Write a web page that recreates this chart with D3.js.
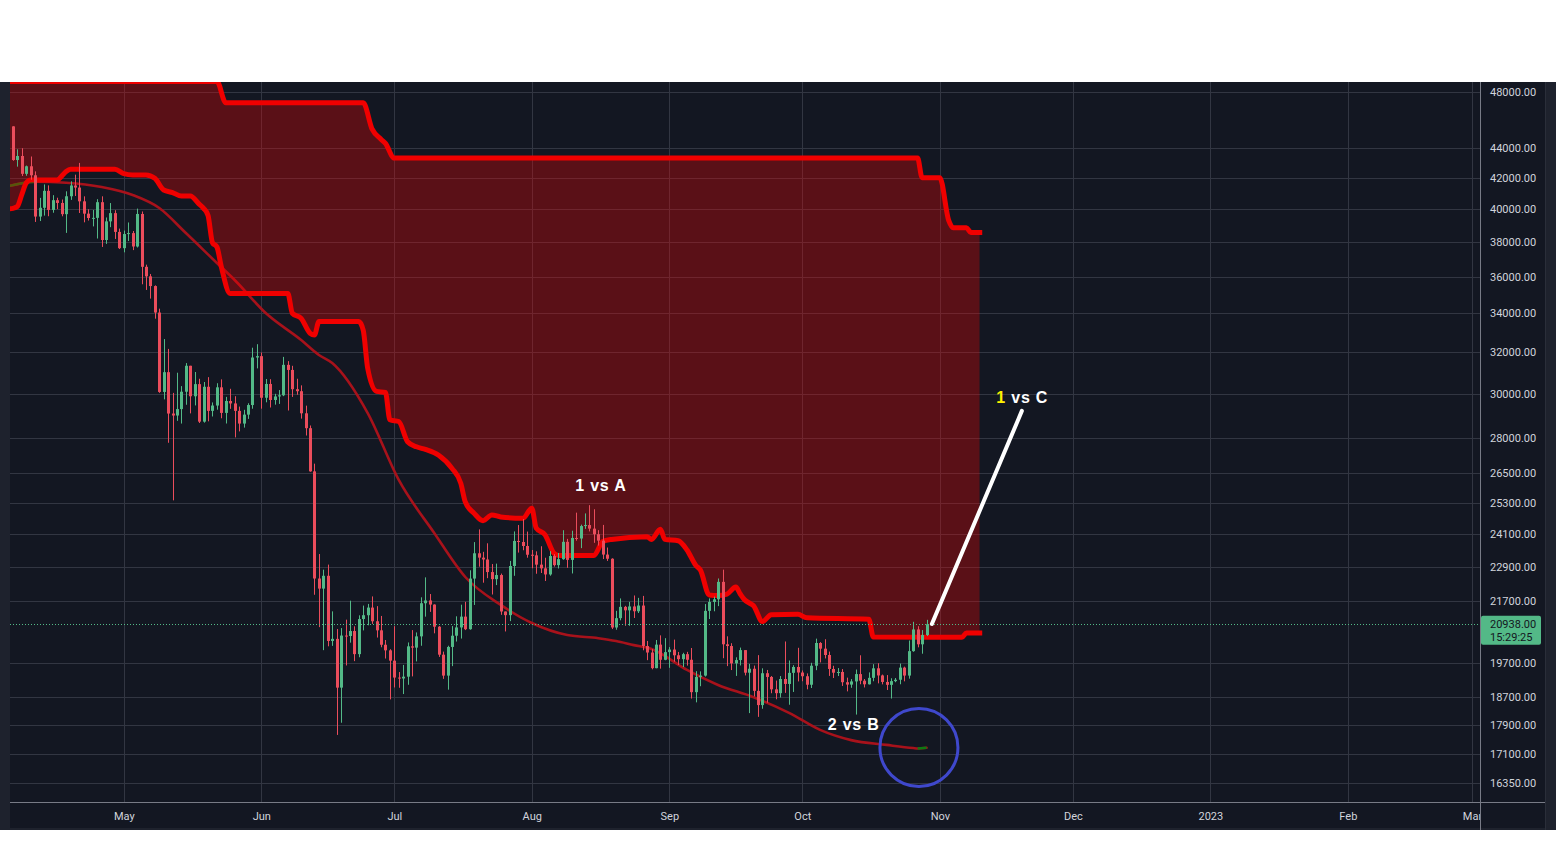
<!DOCTYPE html>
<html><head><meta charset="utf-8">
<script src="https://cdn.jsdelivr.net/npm/d3@7"></script>
<style>
html,body{margin:0;padding:0;background:#ffffff;}
svg{display:block;}
</style></head>
<body>
<svg id="chart" width="1556" height="865"></svg>
<script>
// ---------------- DATA ----------------
const firstCandleDay = "2022-04-05";
// daily candles [open, high, low, close], one per day from firstCandleDay
const candles = [
[46407,47200,45353,45497],[45497,45507,43121,43170],[43170,43900,42727,43444],[43444,43970,42107,42252],
[42252,42800,42125,42753],[42753,43410,41868,42158],[42158,42414,39200,39530],[39530,40699,39254,40074],
[40074,41561,39588,41147],[41147,41500,39551,39942],[39942,40870,39766,40552],[40552,40709,39991,40378],
[40378,40595,39546,39678],[39678,41116,38536,40801],[40801,41760,40571,41493],[41493,42199,40820,41358],
[41358,42976,39751,40480],[40480,40795,39177,39709],[39709,39980,39285,39441],[39441,39940,38929,39450],
[39450,40616,38200,40426],[40426,40797,37702,38112],[38112,39474,37881,39235],[39235,40372,38881,39742],
[39742,39925,38175,38596],[38596,38795,37578,37630],
[37630,38675,37386,38468],[38468,39167,38052,38525],[38525,38651,37517,37728],[37728,40023,37670,39690],
[39690,39845,35571,36552],[36552,36675,35258,36013],[36013,36146,34785,35472],[35472,35510,33713,34038],
[34038,34243,30033,30076],[30076,32658,29730,31017],[31017,32162,27785,29080],[29080,30032,25400,28990],
[28990,30990,28751,29283],[29283,30350,28630,30086],[30086,31460,29480,31328],[31328,31328,29087,29874],
[29874,31025,29450,30444],[30444,30700,28654,28715],[28715,30545,28670,30319],[30319,30777,28730,29201],
[29201,29588,28947,29445],[29445,30487,29255,30293],[30293,30670,28866,29109],[29109,29845,28632,29655],
[29655,30223,29294,29542],[29542,29876,28019,29201],[29201,29397,28282,28629],[28629,29250,28450,29031],
[29031,29550,28838,29468],[29468,32222,29299,31734],[31734,32399,31200,31801],
[31801,31982,29301,29805],[29805,30689,29594,30452],[30452,30679,29355,29700],[29700,29988,29485,29865],
[29865,30165,29520,29919],[29919,31765,29880,31373],[31373,31555,29218,31125],[31125,31326,29843,30205],
[30205,30700,29944,30110],[30110,30386,28850,29091],[29091,29440,28100,28424],[28424,28544,26560,26574],
[26574,26895,21925,22487],[22487,23362,20846,22136],[22136,22800,20111,22583],[22583,22980,20232,20401],
[20401,21365,20246,20468],[20468,20785,17622,18970],[18970,20815,17960,20574],[20574,21090,19637,20560],
[20560,21723,20348,20720],[20720,20873,19770,19987],[19987,21233,19890,21110],[21110,21558,20740,21237],
[21237,21614,20906,21491],[21491,21868,20950,21038],[21038,21539,20510,20742],[20742,21212,20202,20281],
[20281,20432,19850,20105],[20105,20141,18626,19785],
[19785,20876,18975,19270],[19270,19437,18966,19243],[19243,19654,18781,19297],[19297,20354,19055,20231],
[20231,20750,19305,20190],[20190,20675,19762,20548],[20548,21838,20249,21637],[21637,22527,21189,21731],
[21731,21950,21348,21592],[21592,21600,20646,20860],[20860,20880,19900,19970],[19970,20066,19231,19329],
[19329,20250,18910,20212],[20212,20880,19616,20569],[20569,21200,20383,20836],[20836,21588,20478,21190],
[21190,21684,20750,20779],[20779,22777,20762,22485],[22485,23800,21579,23389],[23389,24276,22906,23231],
[23231,23442,22341,23164],[23164,23756,22500,22714],[22714,23000,21934,22465],[22465,23014,22258,22609],
[22609,22660,21250,21361],[21361,21361,20706,21239],[21239,23112,21042,22930],[22930,24200,22582,23843],
[23843,24442,23414,23804],[23804,24668,23500,23656],[23656,24194,23228,23336],
[23336,23509,22850,23314],[23314,23460,22655,22978],[22978,23647,22681,22846],[22846,23227,22400,22630],
[22630,23466,22586,23289],[23289,23354,22909,22961],[22961,23400,22841,23175],[23175,24245,23154,23810],
[23810,23920,22865,23149],[23149,24226,22664,23954],[23954,24918,23852,23934],[23934,24456,23577,24403],
[24403,24888,24296,24441],[24441,25211,24200,24305],[24305,25050,23773,24094],[24094,24247,23671,23854],
[23854,24446,23180,23342],[23342,23600,23111,23191],[23191,23208,20783,20834],[20834,21382,20761,21140],
[21140,21800,21069,21515],[21515,21548,20890,21399],[21399,21684,20890,21529],[21529,21900,21145,21368],
[21368,21819,21310,21559],[21559,21886,20107,20241],[20241,20402,19800,20037],[20037,20142,19520,19555],
[19555,20433,19550,20285],[20285,20580,19540,19811],[19811,20490,19797,20050],
[20050,20208,19565,20131],[20131,20444,19752,19951],[19951,20055,19652,19831],[19831,20029,19587,19986],
[19986,20058,19633,19812],[19812,20179,18650,18837],[18837,19464,18540,19290],[19290,19457,19012,19329],
[19329,21610,19300,21381],[21381,21800,21111,21680],[21680,21860,21367,21770],[21770,22488,21540,22370],
[22370,22799,19860,20296],[20296,20550,19617,20241],[20241,20330,19497,19701],[19701,19888,19320,19803],
[19803,20192,19637,20113],[20113,20113,19335,19417],[19417,19686,18232,19537],[19537,19634,18711,18875],
[18875,19956,18125,18461],[18461,19550,18356,19401],[19401,19500,18531,19289],[19289,19316,18805,18920],
[18920,19180,18629,18807],[18807,19316,18680,19227],[19227,20385,18816,19079],[19079,19790,18471,19412],
[19412,19645,18843,19591],[19591,20185,19155,19422],
[19422,19484,19160,19310],[19310,19395,18920,19056],[19056,19719,18959,19629],[19629,20475,19493,20337],
[20337,20365,19730,20158],[20158,20456,19853,19960],[19960,20067,19320,19530],[19530,19627,19256,19417],
[19417,19558,19316,19439],[19439,19527,19020,19131],[19131,19268,18860,19060],[19060,19224,18965,19155],
[19155,19513,18190,19375],[19375,19951,19070,19176],[19176,19227,18975,19069],[19069,19426,19063,19262],
[19262,19676,19160,19550],[19550,19706,19097,19334],[19334,19360,19067,19139],[19139,19345,18900,19053],
[19053,19250,18650,19163],[19163,19257,19131,19205],[19205,19695,19070,19571],[19571,19601,19157,19330],
[19330,20415,19237,20080],[20080,21020,20060,20771],[20771,20876,20200,20295],[20295,20750,20000,20591],
[20591,21085,20558,20938]
];

// upper band (thick red, top of cloud)
const upperBand = [
["2022-04-05",48800],["2022-05-22",48800],["2022-05-24",47200],["2022-06-24",47200],
["2022-06-26",45300],["2022-06-28",44600],["2022-06-29",44300],["2022-07-01",43300],
["2022-10-27",43300],["2022-10-28",42000],["2022-11-01",42000],["2022-11-03",39300],
["2022-11-04",38850],["2022-11-07",38850],["2022-11-08",38560],["2022-11-10",38560]
];
// lower band (thick red, bottom of cloud)
const lowerBand = [
["2022-04-05",40000],["2022-04-06",40040],["2022-04-07",40150],["2022-04-08",40900],
["2022-04-09",41650],["2022-04-10",41850],["2022-04-16",41850],["2022-04-17",42100],
["2022-04-18",42400],["2022-04-19",42550],["2022-04-29",42550],["2022-05-01",42270],
["2022-05-03",42180],["2022-05-06",42180],["2022-05-08",41960],["2022-05-10",41200],
["2022-05-12",41040],["2022-05-14",40810],["2022-05-16",40810],["2022-05-18",40300],
["2022-05-19",40040],["2022-05-20",39600],["2022-05-21",37950],["2022-05-22",37700],
["2022-05-23",36550],["2022-05-25",35060],["2022-06-07",35060],["2022-06-08",34000],
["2022-06-10",33730],["2022-06-12",32960],["2022-06-13",32870],["2022-06-14",33560],
["2022-06-23",33560],["2022-06-24",33100],["2022-06-25",31200],["2022-06-27",30100],
["2022-06-29",30050],["2022-06-30",28800],["2022-07-02",28720],["2022-07-04",27830],
["2022-07-06",27610],["2022-07-08",27500],["2022-07-11",27250],["2022-07-14",26700],
["2022-07-16",26080],["2022-07-17",25340],["2022-07-19",24890],["2022-07-21",24610],
["2022-07-23",24830],["2022-07-25",24750],["2022-07-30",24700],["2022-08-01",25090],
["2022-08-02",24320],["2022-08-04",24070],["2022-08-06",23390],["2022-08-07",23310],
["2022-08-15",23310],["2022-08-17",23820],["2022-08-19",23900],["2022-08-27",24000],
["2022-08-28",23900],["2022-08-30",24280],["2022-08-31",23900],["2022-09-03",23850],
["2022-09-05",23510],["2022-09-07",22950],["2022-09-08",22790],["2022-09-10",21920],
["2022-09-12",21900],["2022-09-14",21950],["2022-09-16",22190],["2022-09-17",21950],
["2022-09-18",21750],["2022-09-19",21650],["2022-09-20",21550],["2022-09-22",21030],
["2022-09-24",21250],["2022-09-30",21270],["2022-10-02",21150],["2022-10-16",21100],
["2022-10-17",20530],["2022-11-06",20520],["2022-11-07",20660],["2022-11-10",20660]
];
// thin moving average
const movingAvg = [
["2022-04-05",41450],["2022-04-10",41720],["2022-04-11",41740],["2022-04-18",41670],
["2022-04-26",41390],["2022-05-03",40880],["2022-05-09",40060],["2022-05-15",38530],
["2022-05-22",36770],["2022-05-26",35810],["2022-06-02",34010],["2022-06-10",32610],
["2022-06-14",31860],["2022-06-17",31460],["2022-06-25",29100],["2022-07-02",26220],
["2022-07-10",24140],["2022-07-17",22540],["2022-07-25",21580],["2022-08-01",20980],
["2022-08-09",20590],["2022-08-16",20490],["2022-08-20",20400],["2022-08-24",20270],
["2022-08-28",20150],["2022-09-05",19500],["2022-09-12",19050],["2022-09-20",18690],
["2022-09-28",18240],["2022-10-05",17760],["2022-10-12",17480],["2022-10-20",17350],
["2022-10-26",17265],["2022-10-27",17255],["2022-10-29",17272]
];

const lastPrice = 20938;
const lastPriceLabel = "20938.00";
const countdownLabel = "15:29:25";

const priceTicks = [48000,44000,42000,40000,38000,36000,34000,32000,30000,28000,26500,25300,24100,22900,21700,19700,18700,17900,17100,16350];
const monthTicks = ["2022-05-01","2022-06-01","2022-07-01","2022-08-01","2022-09-01","2022-10-01","2022-11-01","2022-12-01","2023-01-01","2023-02-01","2023-03-01"];
const monthLabels = ["May","Jun","Jul","Aug","Sep","Oct","Nov","Dec","2023","Feb","Mar"];

// hand-drawn annotations
const noteTexts = ["1 vs A","2 vs B","1 vs C"];
const noteDates = ["2022-08-16T14:00:00Z","2022-10-12T14:00:00Z","2022-11-19T14:00:00Z"];
const noteValues = [26000,17920,29830];
const pointerFrom = ["2022-10-30T05:00:00Z",20950];
const pointerTo = ["2022-11-19T12:00:00Z",29200];
const circleCenter = ["2022-10-27T07:00:00Z",17280];

// ---------------- DRAWING ----------------
const T = s => new Date(s.length === 10 ? s + "T00:00:00Z" : s);
const plot = {left:10, right:1480, top:82, bottom:802};

const x = d3.scaleUtc()
  .domain([T("2022-04-06"), T("2023-03-01")])
  .range([12.9, 12.9 + 329 * 4.435]);
const y = d3.scaleLog().domain([16350, 48000]).range([783, 92]);

const svg = d3.select("#chart");
const defs = svg.append("defs");
defs.append("clipPath").attr("id","plotClip").append("rect")
  .attr("x",plot.left).attr("y",plot.top).attr("width",plot.right-plot.left).attr("height",plot.bottom-plot.top);
defs.append("clipPath").attr("id","xAxisClip").append("rect")
  .attr("x",plot.left).attr("y",plot.bottom).attr("width",plot.right-plot.left).attr("height",30);

// backgrounds
svg.append("rect").attr("x",0).attr("y",82).attr("width",1556).attr("height",748).attr("fill","#131722");
svg.append("rect").attr("x",0).attr("y",82).attr("width",10).attr("height",748).attr("fill","#1e222d");
svg.append("rect").attr("x",1546).attr("y",82).attr("width",10).attr("height",748).attr("fill","#1e222d");
svg.append("rect").attr("x",0).attr("y",828).attr("width",1556).attr("height",2).attr("fill","#1e222d");

const g = svg.append("g").attr("clip-path","url(#plotClip)");

// grid
const gridColor = "#323642";
g.append("g").selectAll("line").data(priceTicks).join("line")
  .attr("x1",plot.left).attr("x2",plot.right)
  .attr("y1",d=>Math.round(y(d))+0.5).attr("y2",d=>Math.round(y(d))+0.5)
  .attr("stroke",gridColor).attr("stroke-width",1);
g.append("g").selectAll("line").data(monthTicks).join("line")
  .attr("x1",d=>Math.round(x(T(d)))+0.5).attr("x2",d=>Math.round(x(T(d)))+0.5)
  .attr("y1",plot.top).attr("y2",plot.bottom)
  .attr("stroke",gridColor).attr("stroke-width",1);

// moving average (under the cloud)
const maPts = movingAvg.map(([d,v])=>[T(d),v]);
const maLine = d3.line().x(p=>x(p[0])).y(p=>y(p[1])).curve(d3.curveMonotoneX);
g.append("path").attr("d",maLine(maPts)).attr("fill","none")
  .attr("stroke","#a8121b").attr("stroke-width",2.6).attr("stroke-linecap","round");
// rising runs in green
let runs = [], cur = null;
for (let i=1;i<maPts.length;i++){
  if (maPts[i][1] >= maPts[i-1][1]) {
    if (!cur) { cur = [maPts[i-1]]; runs.push(cur); }
    cur.push(maPts[i]);
  } else cur = null;
}
runs.forEach(r=>{
  g.append("path").attr("d",maLine(r)).attr("fill","none")
   .attr("stroke","#0d7a12").attr("stroke-width",2.6);
});

// cloud fill between bands
const upPts = upperBand.map(([d,v])=>[T(d),v]);
const loPts = lowerBand.map(([d,v])=>[T(d),v]);
const belowUpper = d3.area().x(p=>x(p[0])).y0(plot.bottom).y1(p=>y(p[1])).curve(d3.curveMonotoneX);
const aboveLower = d3.area().x(p=>x(p[0])).y0(p=>y(p[1])).y1(plot.top-20).curve(d3.curveMonotoneX);
defs.append("clipPath").attr("id","aboveLowerClip").append("path").attr("d",aboveLower(loPts));
g.append("g").attr("clip-path","url(#aboveLowerClip)")
  .append("path").attr("d",belowUpper(upPts)).attr("fill","rgba(255,0,0,0.30)");

// band lines
const bandLine = d3.line().x(p=>x(p[0])).y(p=>y(p[1])).curve(d3.curveMonotoneX);
[upPts, loPts].forEach(pts=>{
  g.append("path").attr("d",bandLine(pts)).attr("fill","none")
    .attr("stroke","#f00000").attr("stroke-width",5)
    .attr("stroke-linejoin","round").attr("stroke-linecap","square");
});

// candles
const upColor = "#53b987", downColor = "#eb4d5c";
const c0 = T(firstCandleDay);
const cg = g.append("g");
candles.forEach((c,i)=>{
  const [o,h,l,cl] = c;
  const cx = Math.round(x(d3.utcDay.offset(c0,i)));
  const col = cl >= o ? upColor : downColor;
  cg.append("line").attr("x1",cx+0.5).attr("x2",cx+0.5)
    .attr("y1",y(h)).attr("y2",y(l)).attr("stroke",col).attr("stroke-width",1);
  const yt = Math.min(y(o),y(cl)), yb = Math.max(y(o),y(cl));
  cg.append("rect").attr("x",cx-1).attr("width",3)
    .attr("y",yt).attr("height",Math.max(1,yb-yt)).attr("fill",col);
});

// last price dotted line
const yLast = Math.round(y(lastPrice))+0.5;
g.append("line").attr("x1",plot.left).attr("x2",plot.right).attr("y1",yLast).attr("y2",yLast)
  .attr("stroke",upColor).attr("stroke-width",1).attr("stroke-dasharray","1 2");

// axes frame lines
svg.append("line").attr("x1",plot.left).attr("x2",1546).attr("y1",plot.bottom+0.5).attr("y2",plot.bottom+0.5)
  .attr("stroke","#787b86").attr("stroke-width",1);
svg.append("line").attr("x1",plot.right+0.5).attr("x2",plot.right+0.5).attr("y1",82).attr("y2",830)
  .attr("stroke","#787b86").attr("stroke-width",1);
svg.append("line").attr("x1",1545.5).attr("x2",1545.5).attr("y1",82).attr("y2",830)
  .attr("stroke","#2a2e39").attr("stroke-width",1);

// y axis
const yAxis = svg.append("g").attr("transform",`translate(${plot.right},0)`)
  .call(d3.axisRight(y).tickValues(priceTicks).tickSize(0).tickPadding(10).tickFormat(d3.format(".2f")));
yAxis.select(".domain").remove();
yAxis.selectAll("text").attr("fill","#d1d4dc").style("font-family","Roboto, 'Liberation Sans', sans-serif").style("font-size","11px");

// x axis
const xAxis = svg.append("g").attr("clip-path","url(#xAxisClip)").append("g")
  .attr("transform",`translate(0,${plot.bottom})`)
  .call(d3.axisBottom(x).tickValues(monthTicks.map(T)).tickSize(0).tickPadding(10).tickFormat((d,i)=>monthLabels[i]));
xAxis.select(".domain").remove();
xAxis.selectAll("text").attr("fill","#d1d4dc").style("font-family","Roboto, 'Liberation Sans', sans-serif").style("font-size","11px");

// last price label
const lbl = svg.append("g");
lbl.append("rect").attr("x",plot.right+1).attr("y",y(lastPrice)-8.5).attr("width",60).attr("height",29)
  .attr("rx",2).attr("fill",upColor);
lbl.append("text").attr("x",plot.right+10).attr("y",y(lastPrice)).attr("dy","0.35em")
  .attr("fill","#131722").style("font-family","Roboto, 'Liberation Sans', sans-serif").style("font-size","11px")
  .text(lastPriceLabel);
lbl.append("text").attr("x",plot.right+10).attr("y",y(lastPrice)+13).attr("dy","0.35em")
  .attr("fill","#131722").style("font-family","Roboto, 'Liberation Sans', sans-serif").style("font-size","11px")
  .text(countdownLabel);

// annotations
const ann = svg.append("g");
ann.append("line")
  .attr("x1",x(T(pointerFrom[0]))).attr("y1",y(pointerFrom[1]))
  .attr("x2",x(T(pointerTo[0]))).attr("y2",y(pointerTo[1]))
  .attr("stroke","#ffffff").attr("stroke-width",4).attr("stroke-linecap","round");
ann.append("circle").attr("cx",x(T(circleCenter[0]))).attr("cy",y(circleCenter[1])).attr("r",39)
  .attr("fill","none").attr("stroke","#3f48cc").attr("stroke-width",3);
noteTexts.forEach((t,i)=>{
  const tx = ann.append("text").attr("x",x(T(noteDates[i]))).attr("y",y(noteValues[i])).attr("dy","0.36em")
    .attr("text-anchor","middle").style("font-family","'Liberation Sans', Arial, sans-serif")
    .style("font-size","16px").style("font-weight","bold").style("letter-spacing","0.8px");
  if (i === 2) {
    tx.append("tspan").attr("fill","#fff200").text(t.slice(0,1));
    tx.append("tspan").attr("fill","#ffffff").text(t.slice(1));
  } else {
    tx.attr("fill","#ffffff").text(t);
  }
});
</script>
</body></html>
